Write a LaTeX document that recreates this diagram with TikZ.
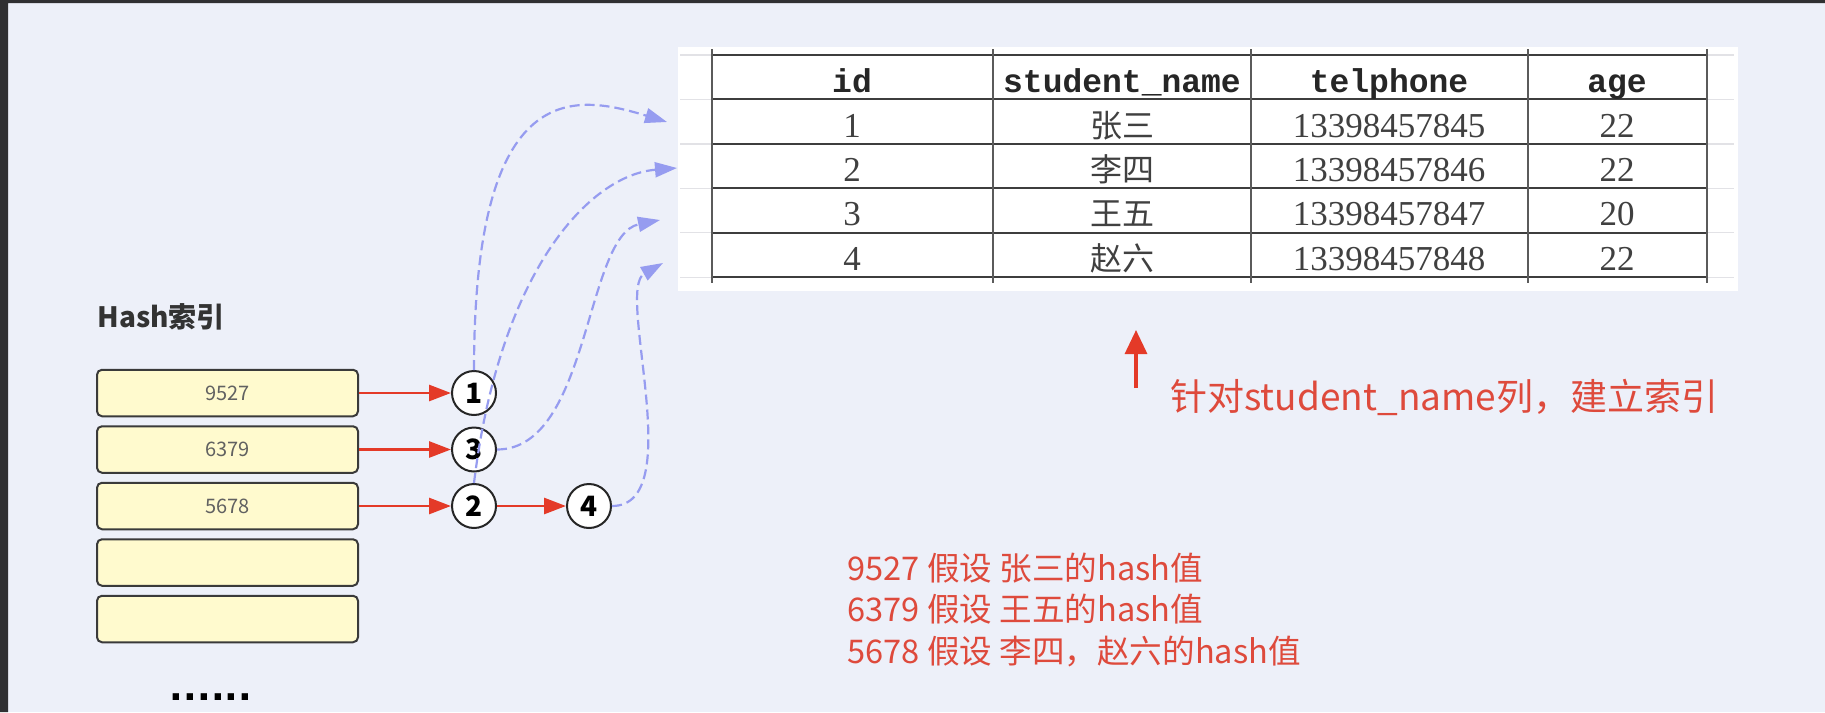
\documentclass[tikz,border=0pt]{standalone}
\usepackage{fontspec}
\usetikzlibrary{arrows.meta,positioning}
\setmainfont{Noto Sans CJK SC}
\newfontfamily\tblmono{Liberation Mono}
\newfontfamily\tblserif{Liberation Serif}
\newfontfamily\dotsfont{DejaVu Sans}
\definecolor{pagebg}{RGB}{237,240,249}
\definecolor{frameedge}{RGB}{48,48,50}
\definecolor{hashyellow}{RGB}{255,250,206}
\definecolor{boxline}{RGB}{58,58,58}
\definecolor{idxred}{RGB}{228,58,40}
\definecolor{notered}{RGB}{222,74,60}
\definecolor{linkblue}{RGB}{150,156,240}
\definecolor{gridgray}{RGB}{226,226,230}
\definecolor{tblline}{RGB}{62,62,62}

\begin{document}
\begin{tikzpicture}[x=0.5pt,y=-0.5pt,node distance=4pt,hbox/.style={draw=boxline,line width=1pt,rounded corners=2.5pt,fill=hashyellow,minimum width=130.5pt,minimum height=23.25pt,inner sep=0pt,font=\fontsize{10}{12}\selectfont,text=black!62},slot/.style={circle,draw=black!85,line width=1pt,fill=white,minimum size=22pt,inner sep=0pt,font=\bfseries\fontsize{14}{16}\selectfont},arr/.style={-{Triangle[length=11pt,width=8pt]},idxred,line width=1.4pt},link/.style={-{Triangle[length=11pt,width=7.5pt]},linkblue,line width=1.1pt,dash pattern=on 5pt off 2.5pt},hdr/.style={font=\tblmono\bfseries\fontsize{16.5}{20}\selectfont,text=black!85,text height=0.7em,text depth=0.2em,inner sep=0pt},cell/.style={font=\tblserif\fontsize{17.5}{20}\selectfont,text=black!75,text height=0.7em,text depth=0.2em,inner sep=0pt},cjkcell/.style={cell,font=\fontsize{16}{20}\selectfont},rednote/.style={text=notered,inner sep=0pt,font=\fontsize{18.5}{22}\selectfont}]
\useasboundingbox (0,0) rectangle (1825,712);
\fill[pagebg] (0,0) rectangle (1825,712);
\fill[frameedge] (0,0) rectangle (8,712) (0,0) rectangle (1825,3);
\fill[white] (678,47) rectangle (1738,291);
\draw[gridgray,line width=0.6pt] (680,55)--(1734,55) (680,99.3)--(1734,99.3) (680,144)--(1734,144) (680,188.3)--(1734,188.3) (680,232.7)--(1734,232.7) (680,277.3)--(1734,277.3);
\draw[tblline,line width=1pt] (712,55)--(1707,55) (712,99.3)--(1707,99.3) (712,144)--(1707,144) (712,188.3)--(1707,188.3) (712,232.7)--(1707,232.7) (712,277.3)--(1707,277.3);
\draw[tblline!85,line width=1pt] (712,49)--(712,283) (993,49)--(993,283) (1251,49)--(1251,283) (1528,49)--(1528,283) (1707,49)--(1707,283);
\node[hdr] (hid) at (852,87) {id};\node[hdr] (hname) at (1122,87) {student\_name};\node[hdr] (htel) at (1389,87) {telphone};\node[hdr] (hage) at (1617,87) {age};
\node[cell] (id1) at (852,132) {1};\node[cjkcell] (nm1) at (1122,132) {张三};\node[cell] (tel1) at (1389,132) {13398457845};\node[cell] (age1) at (1617,132) {22};
\node[cell] (id2) at (852,176.3) {2};\node[cjkcell] (nm2) at (1122,176.3) {李四};\node[cell] (tel2) at (1389,176.3) {13398457846};\node[cell] (age2) at (1617,176.3) {22};
\node[cell] (id3) at (852,220.7) {3};\node[cjkcell] (nm3) at (1122,220.7) {王五};\node[cell] (tel3) at (1389,220.7) {13398457847};\node[cell] (age3) at (1617,220.7) {20};
\node[cell] (id4) at (852,265) {4};\node[cjkcell] (nm4) at (1122,265) {赵六};\node[cell] (tel4) at (1389,265) {13398457848};\node[cell] (age4) at (1617,265) {22};
\node[font=\bfseries\fontsize{14}{16}\selectfont,text=black!80,anchor=west,inner sep=0pt] (htitle) at (97,317) {Hash索引};
\node[hbox] (b1) at (227.5,393) {9527};
\node[hbox,below=of b1] (b2) {6379};
\node[hbox,below=of b2] (b3) {5678};
\node[hbox,below=of b3] (b4) {};
\node[hbox,below=of b4] (b5) {};
\node[font=\dotsfont\bfseries\fontsize{18}{20}\selectfont,inner sep=0pt] (more) at (211,697) {......};
\node[slot,right=46pt of b1] (c1) {1};
\node[slot,right=46pt of b2] (c3) {3};
\node[slot,right=46pt of b3] (c2) {2};
\node[slot,right=34.5pt of c2] (c4) {4};
\draw[arr] (b1)--(c1);\draw[arr] (b2)--(c3);\draw[arr] (b3)--(c2);\draw[arr] (c2)--(c4);
\coordinate (t1) at (667,122);\coordinate (t2) at (677,168);\coordinate (t3) at (660,220);\coordinate (t4) at (663,263);
\draw[link] (c1.north) .. controls +(0,-295) and +(-92,-28) .. (t1);
\draw[link] (c2.north) .. controls +(26,-213) and +(-87,7) .. (t2);
\draw[link] (c3.east) .. controls +(93,0) and +(-75,15) .. (t3);
\draw[link] (c4.east) .. controls +(77,0) and +(-48,27) .. (t4);
\node[rednote,anchor=west] (note) at (1170,397) {针对student\_name列，建立索引};
\coordinate (upfoot) at (1136,388);\coordinate (uptip) at (1136,330);
\draw[arr,line width=1.6pt,-{Triangle[length=12pt,width=11pt]}] (upfoot)--(uptip);
\node[rednote,font=\fontsize{16.3}{20.75}\selectfont,anchor=west,align=left] (hashnote) at (847,609.5) {9527 假设 张三的hash值\\6379 假设 王五的hash值\\5678 假设 李四，赵六的hash值};
\end{tikzpicture}
\end{document}
